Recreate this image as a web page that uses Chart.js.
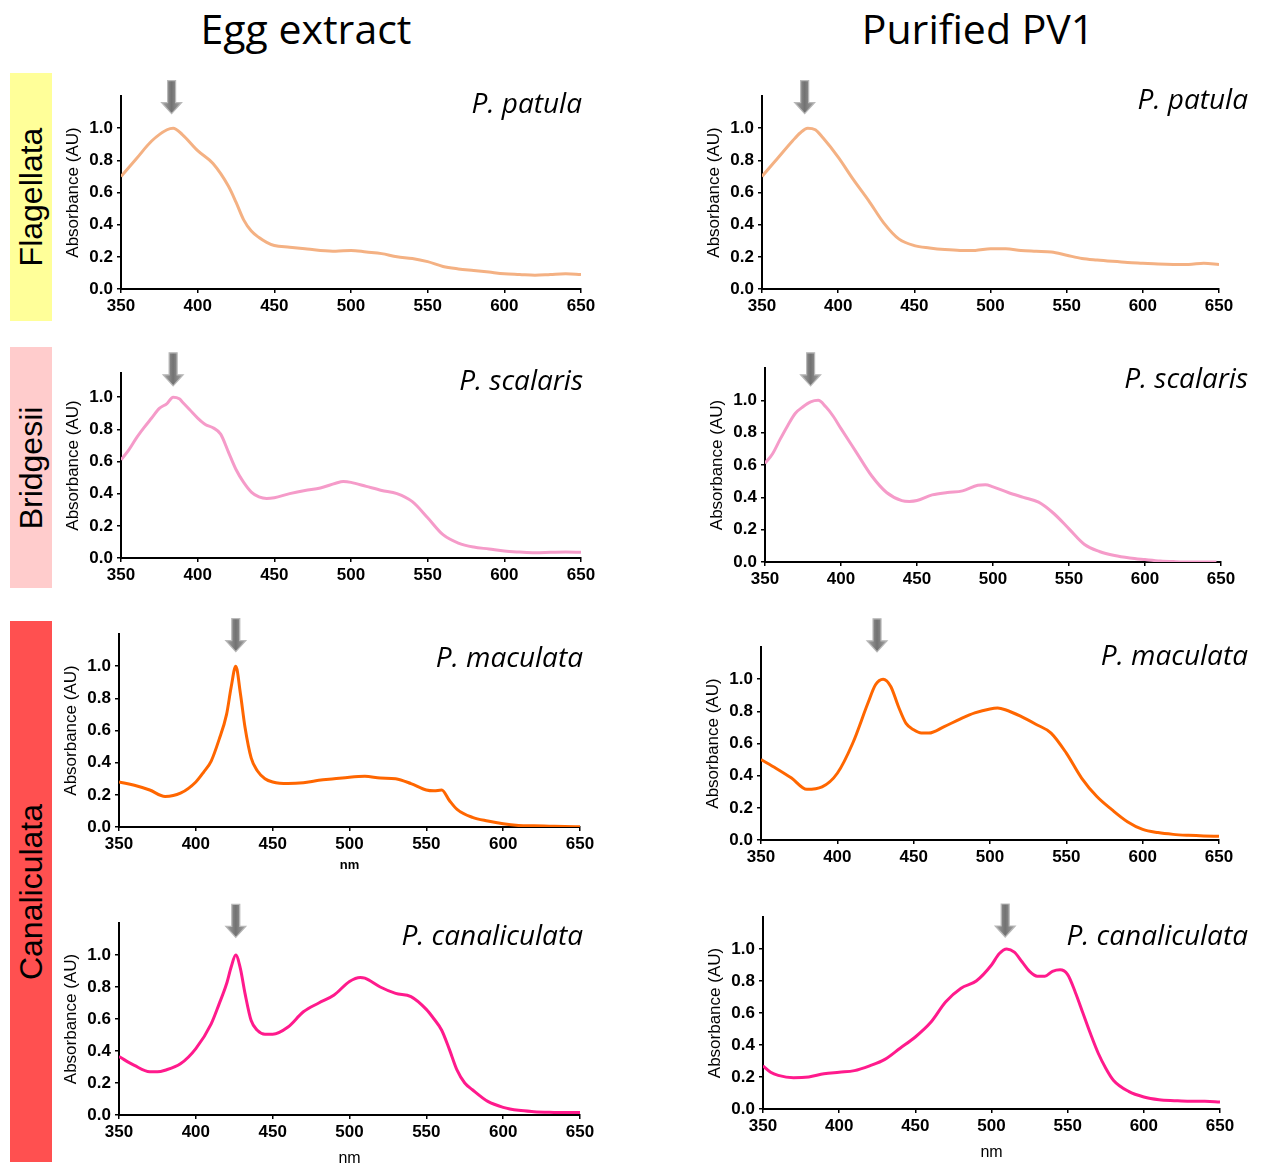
<!DOCTYPE html>
<html>
<head>
<meta charset="utf-8">
<script src="https://cdn.jsdelivr.net/npm/chart.js@4.4.1/dist/chart.umd.min.js"></script>
<style>
    body { margin: 0; background: #fff; width: 1264px; height: 1166px; position: relative; overflow: hidden;
           font-family: 'Liberation Sans', Arial, sans-serif; }
    .title { position: absolute; font-family: 'Open Sans', sans-serif; font-size: 41px; line-height: 1;
             transform: translateX(-50%); white-space: nowrap; color: #000; }
    .side { position: absolute; left: 10px; width: 42px; }
    .side span { position: absolute; left: 50%; top: 50%; transform: translate(-50%, -50%) rotate(-90deg);
                 font-size: 32px; line-height: 1; white-space: nowrap; color: #000; }
    canvas { position: absolute; }
</style>
</head>
<body>
<div class="title" style="left:306px; top:8px;">Egg extract</div>
<div class="title" style="left:978px; top:8px;">Purified PV1</div>
<div class="side" style="top:73px; height:248px; background:#FFFF99;"><span>Flagellata</span></div>
<div class="side" style="top:347px; height:241px; background:#FFCCCC;"><span>Bridgesii</span></div>
<div class="side" style="top:621px; height:541px; background:#FF5050;"><span>Canaliculata</span></div>

<script>
// Spectra (wavelength in nm, normalised absorbance)
const patulaEggNm  = [350, 360, 370, 380, 384, 390, 400, 410, 420, 425, 430, 435, 440, 445, 450, 460, 470, 480, 490, 500, 510, 520, 530, 540, 550, 560, 570, 580, 590, 600, 610, 620, 630, 640, 650];
const patulaEggAbs = [0.70, 0.81, 0.92, 0.99, 1.0, 0.96, 0.86, 0.78, 0.64, 0.54, 0.43, 0.36, 0.32, 0.29, 0.27, 0.26, 0.25, 0.24, 0.235, 0.24, 0.23, 0.22, 0.20, 0.19, 0.17, 0.14, 0.125, 0.115, 0.105, 0.095, 0.09, 0.085, 0.09, 0.095, 0.09];

const patulaPurNm  = [350, 360, 370, 375, 380, 385, 390, 400, 410, 420, 430, 440, 450, 460, 470, 480, 490, 500, 510, 520, 530, 540, 550, 560, 570, 580, 590, 600, 610, 620, 630, 640, 650];
const patulaPurAbs = [0.70, 0.81, 0.92, 0.97, 1.0, 0.99, 0.94, 0.82, 0.68, 0.55, 0.41, 0.31, 0.27, 0.255, 0.245, 0.24, 0.24, 0.25, 0.25, 0.24, 0.235, 0.23, 0.21, 0.19, 0.18, 0.172, 0.165, 0.16, 0.155, 0.153, 0.153, 0.16, 0.153];

const scalarisEggNm  = [350, 355, 360, 365, 370, 375, 380, 384, 388, 390, 395, 400, 405, 410, 415, 420, 425, 430, 435, 440, 445, 450, 460, 470, 480, 490, 495, 500, 510, 520, 530, 540, 550, 560, 570, 580, 590, 600, 610, 620, 630, 640, 650];
const scalarisEggAbs = [0.61, 0.67, 0.745, 0.81, 0.87, 0.93, 0.96, 1.0, 0.99, 0.97, 0.92, 0.87, 0.83, 0.81, 0.77, 0.66, 0.55, 0.47, 0.41, 0.38, 0.37, 0.375, 0.40, 0.42, 0.435, 0.465, 0.475, 0.47, 0.445, 0.42, 0.40, 0.35, 0.25, 0.145, 0.093, 0.068, 0.056, 0.043, 0.037, 0.033, 0.035, 0.037, 0.035];

const scalarisPurNm  = [350, 355, 360, 365, 370, 375, 380, 385, 390, 395, 400, 410, 420, 430, 440, 445, 450, 460, 470, 480, 490, 495, 500, 510, 520, 530, 540, 550, 560, 570, 580, 590, 600, 610, 620, 630, 640, 647];
const scalarisPurAbs = [0.61, 0.67, 0.76, 0.845, 0.92, 0.96, 0.99, 1.0, 0.96, 0.90, 0.825, 0.68, 0.535, 0.43, 0.38, 0.375, 0.38, 0.415, 0.43, 0.44, 0.475, 0.478, 0.465, 0.43, 0.40, 0.37, 0.30, 0.205, 0.11, 0.065, 0.04, 0.025, 0.015, 0.006, 0.002, 0.0, 0.0, 0.0];

const maculataEggNm  = [350, 360, 370, 380, 390, 400, 405, 410, 415, 420, 423, 426, 429, 432, 436, 440, 445, 450, 460, 470, 480, 490, 500, 510, 520, 530, 540, 550, 555, 560, 565, 570, 580, 590, 600, 610, 620, 630, 640, 650];
const maculataEggAbs = [0.28, 0.26, 0.23, 0.19, 0.21, 0.28, 0.34, 0.41, 0.54, 0.70, 0.87, 1.0, 0.83, 0.62, 0.43, 0.35, 0.30, 0.28, 0.27, 0.275, 0.29, 0.30, 0.31, 0.315, 0.305, 0.30, 0.27, 0.23, 0.225, 0.23, 0.165, 0.11, 0.06, 0.037, 0.02, 0.01, 0.007, 0.005, 0.003, 0.002];

const maculataPurNm  = [350, 360, 370, 380, 390, 400, 410, 420, 425, 430, 435, 440, 445, 450, 455, 460, 470, 480, 490, 500, 505, 510, 520, 530, 540, 550, 560, 570, 580, 590, 600, 610, 620, 630, 640, 650];
const maculataPurAbs = [0.50, 0.445, 0.385, 0.315, 0.33, 0.415, 0.60, 0.85, 0.965, 1.0, 0.955, 0.83, 0.725, 0.685, 0.665, 0.665, 0.705, 0.75, 0.79, 0.815, 0.82, 0.81, 0.77, 0.72, 0.665, 0.54, 0.385, 0.27, 0.187, 0.114, 0.066, 0.046, 0.035, 0.029, 0.025, 0.023];

const canalEggNm  = [350, 360, 370, 375, 380, 390, 400, 410, 415, 420, 423, 426, 429, 432, 436, 440, 445, 450, 460, 470, 480, 490, 500, 507, 510, 520, 530, 540, 550, 555, 560, 565, 570, 575, 580, 590, 600, 610, 620, 630, 640, 650];
const canalEggAbs = [0.365, 0.31, 0.27, 0.27, 0.28, 0.32, 0.415, 0.57, 0.69, 0.82, 0.925, 1.0, 0.915, 0.76, 0.59, 0.53, 0.505, 0.505, 0.55, 0.645, 0.70, 0.75, 0.835, 0.86, 0.855, 0.80, 0.76, 0.74, 0.66, 0.60, 0.53, 0.41, 0.28, 0.20, 0.158, 0.085, 0.048, 0.029, 0.021, 0.017, 0.015, 0.015];

const canalPurNm  = [350, 355, 360, 370, 380, 390, 400, 410, 420, 430, 440, 450, 460, 470, 480, 490, 500, 505, 510, 515, 520, 525, 530, 535, 540, 545, 550, 555, 560, 565, 570, 575, 580, 590, 600, 610, 620, 630, 640, 650];
const canalPurAbs = [0.27, 0.23, 0.21, 0.195, 0.20, 0.22, 0.23, 0.24, 0.27, 0.31, 0.38, 0.45, 0.54, 0.67, 0.755, 0.80, 0.90, 0.97, 1.0, 0.98, 0.92, 0.86, 0.83, 0.83, 0.86, 0.87, 0.84, 0.73, 0.60, 0.47, 0.35, 0.255, 0.18, 0.11, 0.075, 0.058, 0.052, 0.048, 0.048, 0.044];

// Axis ticks and annotations
const xTicks = [350, 400, 450, 500, 550, 600, 650];
const yTickStep = 0.2;
const speciesNames = ['P. patula', 'P. patula', 'P. scalaris', 'P. scalaris', 'P. maculata', 'P. maculata', 'P. canaliculata', 'P. canaliculata'];
const arrowNm  = [383, 378, 384, 380, 426, 426, 426, 509];
const arrowTip = [1.09, 1.09, 1.07, 1.09, 1.09, 1.17, 1.11, 1.075];

// Colours
const colPatula = '#F4B183';
const colScalaris = '#F59BC9';
const colMaculata = '#FF6600';
const colCanal = '#FF1A8C';

// Page layout of each panel: axis pixel positions, label positions
const panels = [
    { nm: patulaEggNm,   abs: patulaEggAbs,   color: colPatula,   x0: 121, x1: 581,  y0: 289,  yTop: 96,  ymax: 1.2,  nameX: 582,  nameY: 113, padR: 20, xTitle: null },
    { nm: patulaPurNm,   abs: patulaPurAbs,   color: colPatula,   x0: 762, x1: 1219, y0: 289,  yTop: 96,  ymax: 1.2,  nameX: 1248, nameY: 109, padR: 34, xTitle: null },
    { nm: scalarisEggNm, abs: scalarisEggAbs, color: colScalaris, x0: 121, x1: 581,  y0: 558,  yTop: 373, ymax: 1.15, nameX: 583,  nameY: 390, padR: 20, xTitle: null },
    { nm: scalarisPurNm, abs: scalarisPurAbs, color: colScalaris, x0: 765, x1: 1221, y0: 562,  yTop: 368, ymax: 1.2,  nameX: 1248, nameY: 388, padR: 32, xTitle: null },
    { nm: maculataEggNm, abs: maculataEggAbs, color: colMaculata, x0: 119, x1: 580,  y0: 827,  yTop: 634, ymax: 1.2,  nameX: 583,  nameY: 667, padR: 20, xTitle: { size: 13, weight: 'bold', below: 38 } },
    { nm: maculataPurNm, abs: maculataPurAbs, color: colMaculata, x0: 761, x1: 1219, y0: 840,  yTop: 647, ymax: 1.2,  nameX: 1248, nameY: 665, padR: 34, xTitle: null },
    { nm: canalEggNm,    abs: canalEggAbs,    color: colCanal,    x0: 119, x1: 580,  y0: 1115, yTop: 923, ymax: 1.2,  nameX: 583,  nameY: 945, padR: 20, xTitle: { size: 16, weight: 'normal', below: 43 } },
    { nm: canalPurNm,    abs: canalPurAbs,    color: colCanal,    x0: 763, x1: 1220, y0: 1109, yTop: 917, ymax: 1.2,  nameX: 1248, nameY: 945, padR: 33, xTitle: { size: 16, weight: 'normal', below: 43 } }
];

const FONT = "'Liberation Sans', Arial, sans-serif";
const Y_W = 58, PAD_TOP = 40;

// grey "peak" arrow, tip at (cx, tip)
function drawArrow(ctx, cx, tip) {
    const grad = ctx.createLinearGradient(cx - 10, 0, cx + 10, 0);
    grad.addColorStop(0, '#a8a8a8');
    grad.addColorStop(0.5, '#727272');
    grad.addColorStop(1, '#a8a8a8');
    ctx.save();
    ctx.fillStyle = grad;
    ctx.strokeStyle = '#b9b9b9';
    ctx.lineWidth = 1.2;
    ctx.beginPath();
    ctx.moveTo(cx - 4, tip - 33);
    ctx.lineTo(cx + 4, tip - 33);
    ctx.lineTo(cx + 4, tip - 11);
    ctx.lineTo(cx + 10, tip - 11);
    ctx.lineTo(cx, tip);
    ctx.lineTo(cx - 10, tip - 11);
    ctx.lineTo(cx - 4, tip - 11);
    ctx.closePath();
    ctx.fill();
    ctx.stroke();
    ctx.restore();
}

function makePanel(p, i) {
    const H = p.xTitle ? Math.round(p.xTitle.below + p.xTitle.size * 0.6) : 30;
    const left = p.x0 - Y_W, top = p.yTop - PAD_TOP;
    const width = (p.x1 - p.x0) + Y_W + p.padR;
    const height = (p.y0 - p.yTop) + PAD_TOP + H;

    const canvas = document.createElement('canvas');
    canvas.width = width;
    canvas.height = height;
    canvas.style.left = left + 'px';
    canvas.style.top = top + 'px';
    canvas.style.width = width + 'px';
    canvas.style.height = height + 'px';
    document.body.appendChild(canvas);

    const overlay = {
        id: 'overlay' + i,
        afterDraw(chart) {
            const { ctx, scales } = chart;
            drawArrow(ctx, scales.x.getPixelForValue(arrowNm[i]), scales.y.getPixelForValue(arrowTip[i]));
            ctx.save();
            ctx.font = "italic 28px 'Open Sans', sans-serif";
            ctx.fillStyle = '#000';
            ctx.textAlign = 'right';
            ctx.textBaseline = 'alphabetic';
            ctx.fillText(speciesNames[i], p.nameX - left, p.nameY - top);
            ctx.restore();
        }
    };

    new Chart(canvas, {
        type: 'line',
        data: {
            datasets: [{
                data: p.nm.map((w, k) => ({ x: w, y: p.abs[k] })),
                borderColor: p.color,
                borderWidth: 3,
                pointRadius: 0,
                fill: false,
                cubicInterpolationMode: 'monotone'
            }]
        },
        options: {
            responsive: false,
            animation: false,
            events: [],
            layout: { padding: { top: PAD_TOP, right: p.padR, left: 0, bottom: 0 } },
            plugins: { legend: { display: false }, tooltip: { enabled: false } },
            scales: {
                x: {
                    type: 'linear',
                    min: xTicks[0],
                    max: xTicks[xTicks.length - 1],
                    afterBuildTicks: s => { s.ticks = xTicks.map(v => ({ value: v })); },
                    ticks: { color: '#000', font: { family: FONT, size: 17, weight: 'bold' }, padding: 3, maxRotation: 0 },
                    grid: { drawOnChartArea: false, drawTicks: true, tickLength: 4, color: '#000', lineWidth: 1.5 },
                    border: { color: '#000', width: 2 },
                    title: {
                        display: !!p.xTitle,
                        text: 'nm',
                        color: '#000',
                        padding: 0,
                        font: { family: FONT, size: p.xTitle ? p.xTitle.size : 12, weight: p.xTitle ? p.xTitle.weight : 'normal' }
                    },
                    afterFit: s => { s.height = H; }
                },
                y: {
                    min: 0,
                    max: p.ymax,
                    ticks: {
                        stepSize: yTickStep,
                        color: '#000',
                        font: { family: FONT, size: 17, weight: 'bold' },
                        padding: 4,
                        callback: v => Number(v).toFixed(1)
                    },
                    afterBuildTicks: s => { s.ticks = s.ticks.filter(t => t.value <= 1.0001); },
                    grid: { drawOnChartArea: false, drawTicks: true, tickLength: 4, color: '#000', lineWidth: 1.5 },
                    border: { color: '#000', width: 2 },
                    title: { display: true, text: 'Absorbance (AU)', color: '#000', padding: 0, font: { family: FONT, size: 17 } },
                    afterFit: s => { s.width = Y_W; }
                }
            }
        },
        plugins: [overlay]
    });
}

panels.forEach(makePanel);
</script>
</body>
</html>
